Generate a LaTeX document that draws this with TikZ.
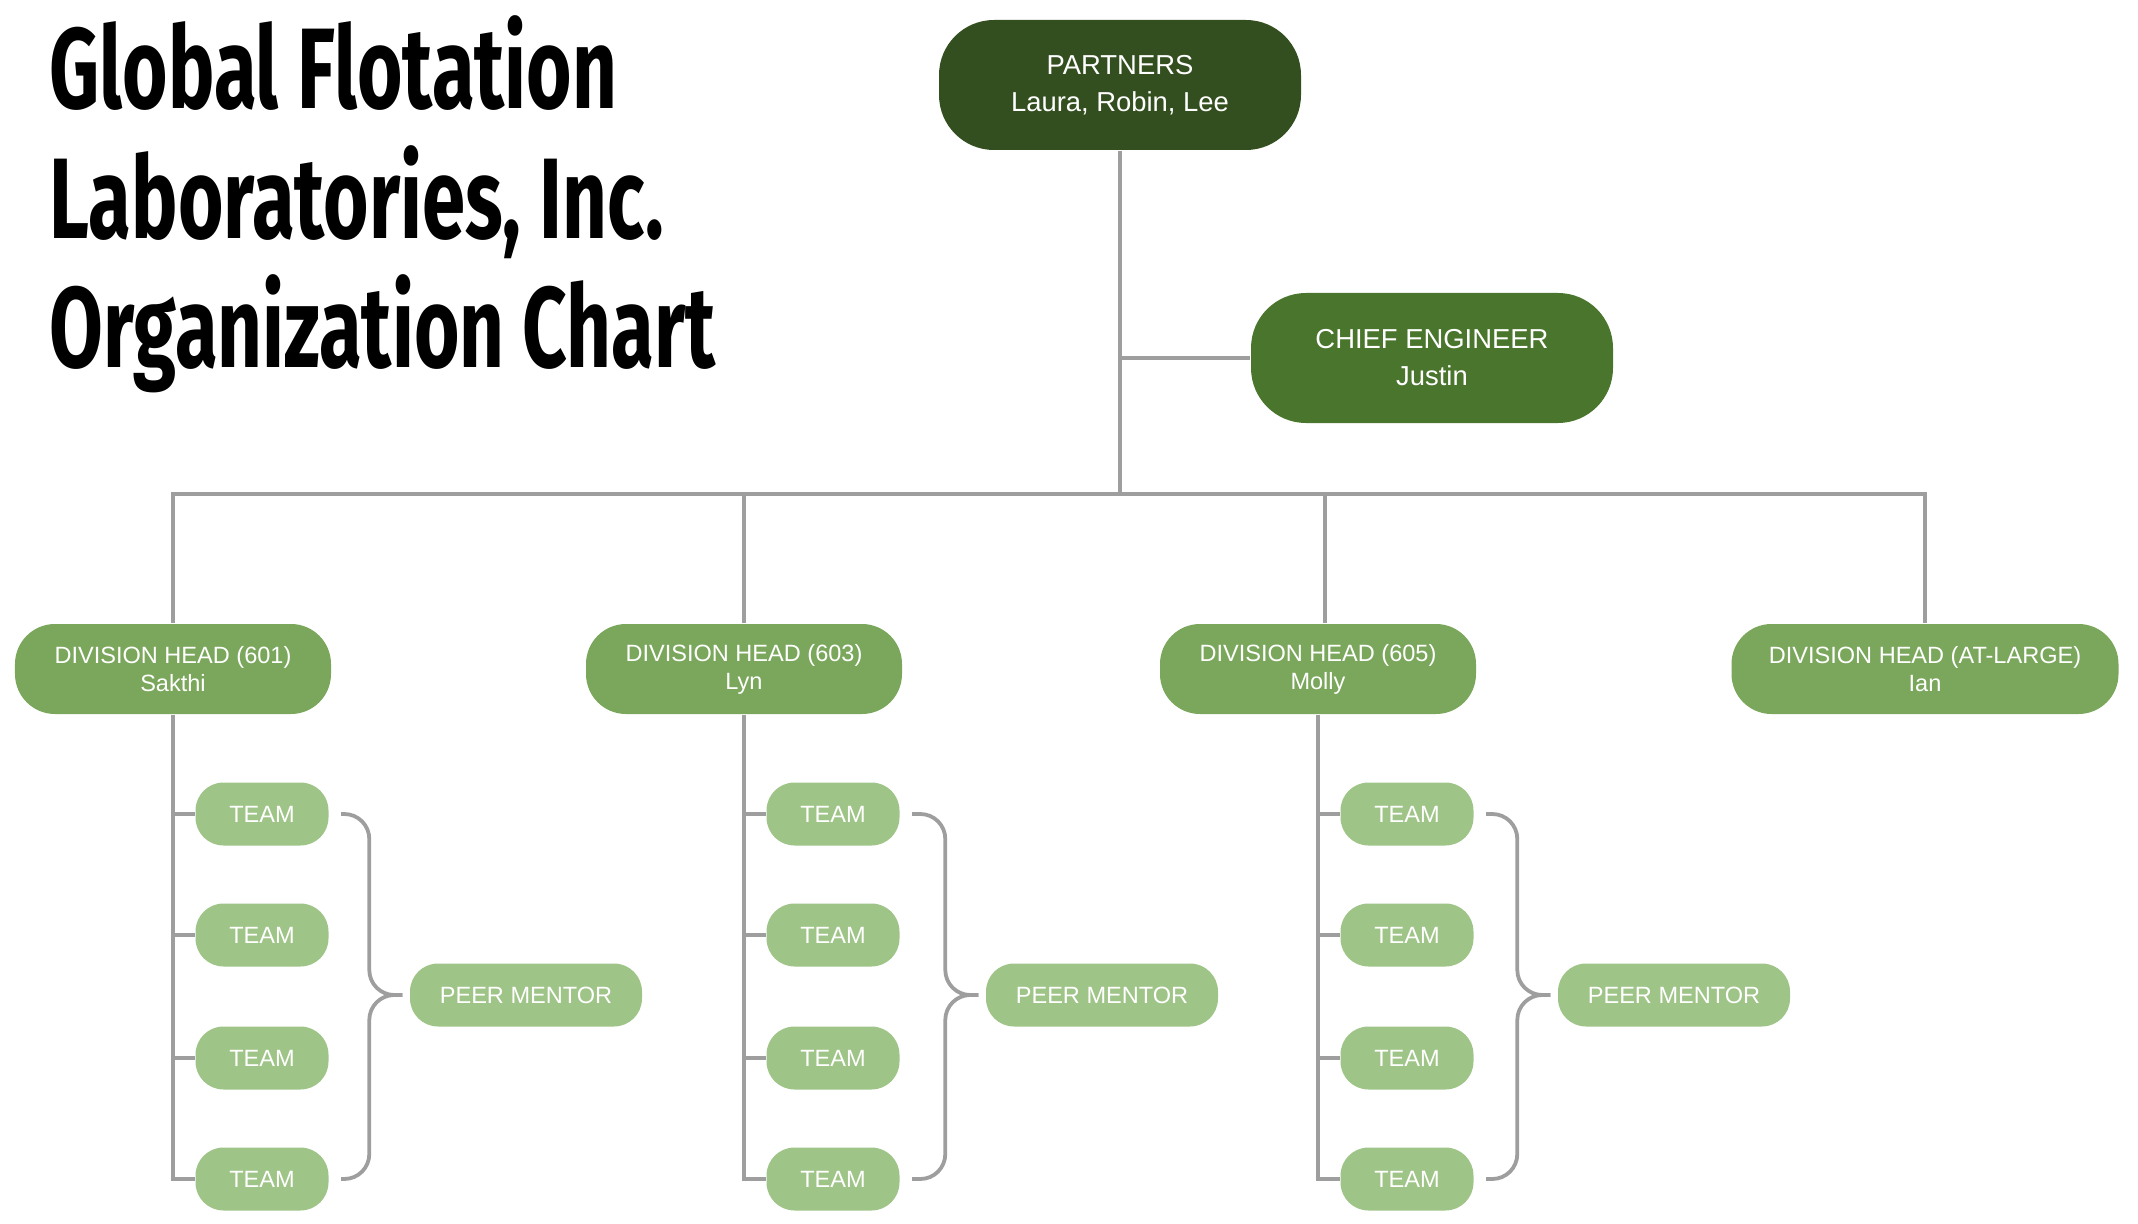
\documentclass[tikz,border=0pt]{standalone}
\usepackage{fontspec}
\setmainfont{Liberation Sans}
\newfontfamily\titlefont[FakeStretch=0.68]{Fira Sans}
\definecolor{partnergreen}{HTML}{344F1F}
\definecolor{chiefgreen}{HTML}{4A752D}
\definecolor{headgreen}{HTML}{7AA75B}
\definecolor{teamgreen}{HTML}{9FC487}
\definecolor{linkgray}{HTML}{9E9E9E}
\begin{document}
\begin{tikzpicture}[every node/.style={font=\fontsize{6.7}{8}\selectfont},
  box/.style={align=center,text=white,inner sep=0pt},
  topbox/.style={box,minimum width=3.62cm,minimum height=1.30cm,rounded corners=0.55cm,font=\fontsize{7.8}{10.5}\selectfont},
  head/.style={box,fill=headgreen,minimum width=3.16cm,minimum height=0.90cm,rounded corners=0.40cm},
  team/.style={box,fill=teamgreen,minimum width=1.33cm,minimum height=0.63cm,rounded corners=0.28cm},
  mentor/.style={team,minimum width=2.32cm},
  link/.style={draw=linkgray,line width=0.38mm},
  title/.style={anchor=base west,inner sep=0pt,font=\titlefont\bfseries\fontsize{32.6}{37}\selectfont}]
\useasboundingbox (0,0) rectangle (21.38,-12.24);
% title
\node[title] (title1) at (0.49,-1.09) {Global Flotation};
\node[title] (title2) at (0.49,-2.39) {Laboratories, Inc.};
\node[title] (title3) at (0.49,-3.68) {Organization Chart};
% top of the chart
\node[topbox,fill=partnergreen] (partners) at (11.20,-0.85) {PARTNERS\\ Laura, Robin, Lee};
\node[topbox,fill=chiefgreen] (chief) at (14.32,-3.58) {CHIEF ENGINEER\\ Justin};
\node[head] (d601) at (1.73,-6.69) {DIVISION HEAD (601)\\ Sakthi};
\node[head] (d603) at (7.44,-6.69) {DIVISION HEAD (603)\\ Lyn};
\node[head] (d605) at (13.18,-6.69) {DIVISION HEAD (605)\\ Molly};
\node[head,minimum width=3.87cm] (dal) at (19.25,-6.69) {DIVISION HEAD (AT-LARGE)\\ Ian};
\coordinate (bus) at (11.20,-4.94);
\coordinate (d605top) at ([xshift=0.07cm]d605.north);
\draw[link] (partners.south) -- (bus);
\draw[link] (chief.west) -- (chief.west -| bus);
\draw[link] (d601.north) |- (bus) -| (dal.north);
\draw[link] (d603.north) -- (d603.north |- bus);
\draw[link] (d605top) -- (d605top |- bus);
% teams and peer mentors
\foreach \g/\tx/\mx in {601/2.62/5.26, 603/8.33/11.02, 605/14.07/16.74} {
  \foreach \i/\y in {1/-8.14, 2/-9.35, 3/-10.58, 4/-11.79}
    \node[team] (t\g\i) at (\tx,\y) {TEAM};
  \node[mentor] (m\g) at (\mx,-9.95) {PEER MENTOR};
  \draw[link] (d\g.south) |- (t\g4.west);
  \foreach \i in {1,2,3}
    \draw[link] (t\g\i.west) -- (t\g\i.west -| d\g.south);
  \draw[link,rounded corners=0.25cm] ([xshift=0.12cm]t\g1.east) -| ([xshift=-0.40cm]m\g.west) -- ([xshift=-0.07cm]m\g.west);
  \draw[link,rounded corners=0.25cm] ([xshift=0.12cm]t\g4.east) -| ([xshift=-0.40cm]m\g.west) -- ([xshift=-0.07cm]m\g.west);
}
\end{tikzpicture}
\end{document}
